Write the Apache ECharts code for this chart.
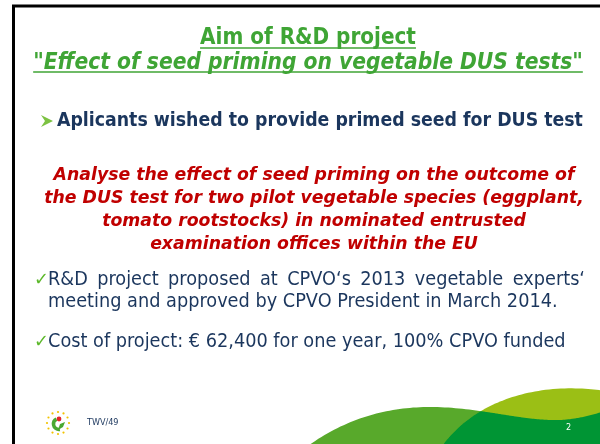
<!DOCTYPE html>
<html><head><meta charset="utf-8">
<script src="https://cdn.jsdelivr.net/npm/echarts@6/dist/echarts.min.js"></script>
<style>html,body{margin:0;padding:0;background:#fff}#c{width:600px;height:444px}</style>
</head><body><div id="c"></div>
<script>
// ---- content ----
const titleText = 'Aim of R&D project';
const subtitleText = 'Effect of seed priming on vegetable DUS tests';
const bulletText = 'Aplicants wished to provide primed seed for DUS test';
const aimLines = [
  'Analyse the effect of seed priming on the outcome of',
  'the DUS test for two pilot vegetable species (eggplant,',
  'tomato rootstocks) in nominated entrusted',
  'examination offices within the EU'
];
const checkItem1 = ['R&D project proposed at CPVO\u2018s 2013 vegetable experts\u2018',
                    'meeting and approved by CPVO President in March 2014.'];
const checkItem2 = ['Cost of project: \u20ac 62,400 for one year, 100% CPVO funded'];
const footerText = 'TWV/49';
const pageNumber = '2';

// ---- styling helpers ----
const TAH = "'DejaVu Sans Condensed', 'DejaVu Sans', sans-serif";
const VER = "'DejaVu Sans', sans-serif";
const GREEN = '#3fa535', NAVY = '#1b365d', RED = '#c00000';
const ctx = document.createElement('canvas').getContext('2d');
function mw(t, size, weight, style, fam) { ctx.font = style + ' ' + weight + ' ' + size + 'px ' + fam; return ctx.measureText(t).width; }
function fit(t, target, weight, style, fam) { return 20 * target / mw(t, 20, weight, style, fam); }
function txt(t, x, y, size, color, opts) {
  opts = opts || {};
  return { type: 'text', x: x, y: y, z: 10, style: {
    text: t, fill: color, fontSize: size, fontFamily: opts.fam || TAH,
    fontWeight: opts.weight || 'normal', fontStyle: opts.style || 'normal',
    align: opts.align || 'left', textAlign: opts.align || 'left',
    verticalAlign: 'middle', textVerticalAlign: 'middle' } };
}
const els = [];
const CX = 308;

// border
els.push({ type: 'rect', shape: { x: 13.5, y: 6, width: 800, height: 800 }, style: { fill: 'none', stroke: '#000', lineWidth: 3 } });

// title
const tSize = fit(titleText, 216, 'bold', 'normal', TAH);
const tW = mw(titleText, tSize, 'bold', 'normal', TAH);
els.push(txt(titleText, CX, 38, tSize, GREEN, { weight: 'bold', align: 'center' }));
els.push({ type: 'line', shape: { x1: CX - tW / 2, y1: 48, x2: CX + tW / 2, y2: 48 }, style: { stroke: GREEN, lineWidth: 1.6 } });

// subtitle with quotes
const sFull = '"' + subtitleText + '"';
const sSize = fit(sFull, 550, 'bold', 'italic', TAH);
const qW = mw('"', sSize, 'bold', 'normal', TAH);
const mW = mw(subtitleText, sSize, 'bold', 'italic', TAH);
const sTot = 2 * qW + mW, sX = CX - sTot / 2;
els.push(txt('"', sX, 63, sSize, GREEN, { weight: 'bold' }));
els.push(txt(subtitleText, sX + qW, 63, sSize, GREEN, { weight: 'bold', style: 'italic' }));
els.push(txt('"', sX + qW + mW, 63, sSize, GREEN, { weight: 'bold' }));
els.push({ type: 'line', shape: { x1: sX, y1: 72, x2: sX + sTot, y2: 72 }, style: { stroke: GREEN, lineWidth: 1.6 } });

// bullet
els.push({ type: 'polygon', shape: { points: [[41, 115], [53, 121], [41, 127], [45, 121]] }, style: { fill: '#7cc242' } });
const bSize = fit(bulletText, 526, 'bold', 'normal', TAH);
els.push(txt(bulletText, 57, 121, bSize, NAVY, { weight: 'bold' }));

// red aim lines
const rSize = fit(aimLines[1], 540, 'bold', 'italic', VER);
const aimY = [176, 199, 222, 245];
aimLines.forEach(function (l, i) { els.push(txt(l, 314, aimY[i], rSize, RED, { weight: 'bold', style: 'italic', fam: VER, align: 'center' })); });

// check items
const cSize = fit(checkItem2[0], 518, 'normal', 'normal', TAH);
function check(y) { els.push(txt('\u2713', 34, y, cSize * 0.9, '#5cb82a', { fam: VER })); }
check(280); check(342);
// justified first line
(function () {
  const words = checkItem1[0].split(' ');
  const ws = words.map(function (w) { return mw(w, cSize, 'normal', 'normal', TAH); });
  const total = ws.reduce(function (a, b) { return a + b; }, 0);
  const gap = (585 - 48 - total) / (words.length - 1);
  let x = 48;
  words.forEach(function (w, i) { els.push(txt(w, x, 280, cSize, NAVY)); x += ws[i] + gap; });
})();
els.push(txt(checkItem1[1], 48, 302, cSize, NAVY));
els.push(txt(checkItem2[0], 48, 342, cSize, NAVY));

// footer logo
const LX = 58, LY = 423;
for (let i = 0; i < 12; i++) {
  const a = i * Math.PI / 6;
  els.push({ type: 'circle', shape: { cx: LX + 11 * Math.cos(a), cy: LY + 11 * Math.sin(a), r: 1.1 }, style: { fill: '#f2c300' } });
}
els.push({ type: 'arc', shape: { cx: LX + 1, cy: LY + 1, r: 5.5, startAngle: Math.PI * 0.45, endAngle: Math.PI * 1.35 }, style: { stroke: '#4aa832', lineWidth: 3.5, fill: 'none' } });
els.push({ type: 'polygon', shape: { points: [[LX, LY + 7], [LX + 2, LY + 1], [LX + 7, LY - 1], [LX + 5, LY + 4]] }, style: { fill: '#4aa832' } });
els.push({ type: 'circle', shape: { cx: LX + 1, cy: LY - 4, r: 2.4 }, style: { fill: '#e3262b' } });
els.push(txt(footerText, 87, 423, 9, NAVY));

// decorative swooshes
function cubic(p0, p1, p2, p3, n) {
  const out = [];
  for (let i = 0; i <= n; i++) {
    const t = i / n, u = 1 - t;
    out.push([u*u*u*p0[0] + 3*u*u*t*p1[0] + 3*u*t*t*p2[0] + t*t*t*p3[0],
              u*u*u*p0[1] + 3*u*u*t*p1[1] + 3*u*t*t*p2[1] + t*t*t*p3[1]]);
  }
  return out;
}
const lightTop = [].concat(
  cubic([300, 452], [340, 420], [385, 407], [430, 407], 40),
  cubic([430, 407], [480, 407], [520, 421], [560, 420], 40),
  cubic([560, 420], [580, 419], [595, 414], [612, 409], 20));
const yellowTop = [].concat(
  cubic([438, 452], [455, 425], [490, 395], [553, 389], 50),
  cubic([553, 389], [580, 387], [600, 390], [612, 392], 20));
function yAt(curve, x) {
  for (let i = 1; i < curve.length; i++) {
    const a = curve[i - 1], b = curve[i];
    if (x >= a[0] && x <= b[0]) { const t = (x - a[0]) / ((b[0] - a[0]) || 1); return a[1] + t * (b[1] - a[1]); }
  }
  return null;
}
els.push({ type: 'polygon', shape: { points: lightTop.concat([[612, 452], [300, 452]]) }, style: { fill: '#58a92b' } });
els.push({ type: 'polygon', shape: { points: yellowTop.concat([[612, 452], [438, 452]]) }, style: { fill: '#9bbf15' } });
const dark = [];
for (let x = 438; x <= 612; x += 1) {
  const a = yAt(lightTop, x), b = yAt(yellowTop, x);
  if (a != null && b != null) dark.push([x, Math.max(a, b)]);
}
els.push({ type: 'polygon', shape: { points: dark.concat([[612, 452], [438, 452]]) }, style: { fill: '#009534' } });
els.push(txt(pageNumber, 566, 428, 9, '#ffffff'));

const chart = echarts.init(document.getElementById('c'), null, { renderer: 'canvas' });
chart.setOption({ backgroundColor: '#ffffff', animation: false, graphic: { elements: els } });
</script></body></html>
